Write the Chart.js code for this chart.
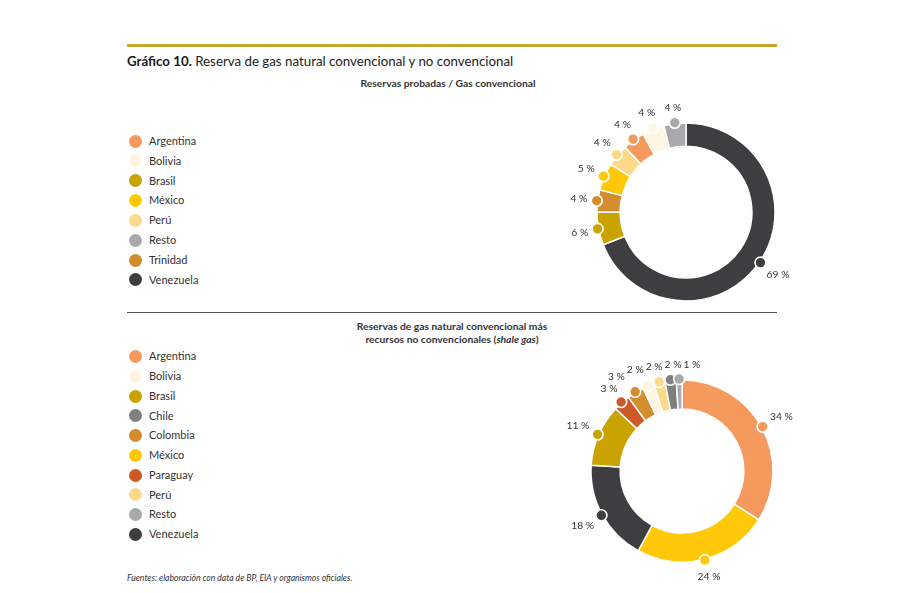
<!DOCTYPE html>
<html>
<head>
<meta charset="utf-8">
<script src="https://cdn.jsdelivr.net/npm/chart.js@4.4.1/dist/chart.umd.min.js"></script>
<style>
  html, body { margin: 0; padding: 0; background: #fff; }
  body { width: 908px; height: 593px; position: relative; overflow: hidden; font-family: Lato, "Liberation Sans", sans-serif; }
  .abs { position: absolute; white-space: nowrap; }
  canvas { position: absolute; }
</style>
</head>
<body>
<div class="abs" style="left:127px; top:44px; width:650px; height:2.5px; background:#c8a72f;"></div>
<div class="abs" style="left:127px; top:52.9px; font-size:13.3px; line-height:16px; color:#1b1b1b;"><b>Gráfico 10.</b> Reserva de gas natural convencional y no convencional</div>
<div class="abs" style="left:248px; width:400px; top:77px; text-align:center; font-size:10.3px; line-height:12.4px; font-weight:bold; color:#333;">Reservas probadas / Gas convencional</div>

<div class="abs" style="left:127px; top:312px; width:650px; height:1px; background:#555;"></div>
<div class="abs" style="left:252px; width:400px; top:320.3px; text-align:center; font-size:10.3px; line-height:12.8px; font-weight:bold; color:#333;">Reservas de gas natural convencional más<br>recursos no convencionales (<i>shale gas</i>)</div>

<div class="abs" style="left:127px; top:572.5px; font-size:8.6px; line-height:10.3px; font-style:italic; color:#333;">Fuentes: elaboración con data de BP, EIA y organismos oficiales.</div>

<div id="legend1"></div>
<div id="legend2"></div>
<canvas id="chart-convencional" width="300" height="240" style="left:536px; top:92px;"></canvas>
<canvas id="chart-total" width="300" height="240" style="left:532px; top:351px;"></canvas>

<script>
// Reservas probadas / gas convencional (%), en el orden del anillo
const convLabels = ['Venezuela', 'Brasil', 'Trinidad', 'México', 'Perú', 'Argentina', 'Bolivia', 'Resto'];
const convValues = [69, 6, 4, 5, 4, 4, 4, 4];

// Convencional + no convencional (shale gas) (%)
const totalLabels = ['Argentina', 'México', 'Venezuela', 'Brasil', 'Paraguay', 'Colombia', 'Bolivia', 'Perú', 'Chile', 'Resto'];
const totalValues = [34, 24, 18, 11, 3, 3, 2, 2, 2, 1];

const countryColors = {
  'Argentina': '#f59a5c',
  'Bolivia': '#fef6e2',
  'Brasil': '#cba300',
  'Chile': '#7f7f80',
  'Colombia': '#d38c2e',
  'Trinidad': '#d38c2e',
  'México': '#ffc90a',
  'Paraguay': '#cf5828',
  'Perú': '#fdd98a',
  'Resto': '#a9a9ab',
  'Venezuela': '#3e3e40'
};

// puntos y etiquetas de porcentaje en el borde de cada sector
const markerPlugin = {
  id: 'markers',
  afterDatasetsDraw(chart) {
    const ctx = chart.ctx;
    const ds = chart.data.datasets[0];
    const meta = chart.getDatasetMeta(0);
    ctx.save();
    ctx.font = '10.3px Lato, "Liberation Sans", sans-serif';
    const boxes = [];
    meta.data.forEach((arc, i) => {
      const p = arc.getProps(['x', 'y', 'startAngle', 'endAngle', 'outerRadius']);
      const a = (p.startAngle + p.endAngle) / 2;
      const cos = Math.cos(a), sin = Math.sin(a);
      const mx = p.x + cos * (p.outerRadius + 1);
      const my = p.y + sin * (p.outerRadius + 1);
      ctx.beginPath();
      ctx.arc(mx, my, 5.5, 0, Math.PI * 2);
      ctx.fillStyle = ds.backgroundColor[i];
      ctx.fill();
      ctx.lineWidth = 1.6;
      ctx.strokeStyle = '#fff';
      ctx.stroke();

      const txt = ds.data[i] + ' %';
      const w = ctx.measureText(txt).width;
      const d = 9 + (w / 2) * Math.abs(cos) + 5 * Math.abs(sin);
      boxes.push({ txt, w, h: 10, x: mx + cos * d, y: my + sin * d });
    });

    // separar etiquetas que se pisan
    for (let it = 0; it < 60; it++) {
      for (let i = 0; i < boxes.length; i++) {
        for (let j = i + 1; j < boxes.length; j++) {
          const A = boxes[i], B = boxes[j];
          const dx = B.x - A.x, dy = B.y - A.y;
          const ox = (A.w + B.w) / 2 + 2 - Math.abs(dx);
          const oy = (A.h + B.h) / 2 + 1 - Math.abs(dy);
          if (ox > 0 && oy > 0) {
            const s = dx >= 0 ? 1 : -1;
            A.x -= s * ox / 2;
            B.x += s * ox / 2;
          }
        }
      }
    }

    ctx.fillStyle = '#333';
    ctx.textAlign = 'center';
    ctx.textBaseline = 'middle';
    boxes.forEach(b => ctx.fillText(b.txt, b.x, b.y));
    ctx.restore();
  }
};

function makeDonut(id, labels, values, radius, cutout) {
  new Chart(document.getElementById(id), {
    type: 'doughnut',
    data: {
      labels: labels,
      datasets: [{
        data: values,
        backgroundColor: labels.map(l => countryColors[l]),
        borderColor: '#fff',
        borderWidth: 1.5
      }]
    },
    options: {
      responsive: false,
      animation: false,
      events: [],
      radius: radius,
      cutout: cutout,
      plugins: {
        legend: { display: false },
        tooltip: { enabled: false }
      }
    },
    plugins: [markerPlugin]
  });
}

function makeLegend(id, labels, firstY, step) {
  const box = document.getElementById(id);
  const sorted = labels.slice().sort((a, b) => a.localeCompare(b, 'es'));
  sorted.forEach((name, i) => {
    const cy = firstY + i * step;
    const dot = document.createElement('div');
    dot.className = 'abs';
    dot.style.cssText = `left:${135 - 6.5}px; top:${cy - 6.5}px; width:13px; height:13px; border-radius:50%; background:${countryColors[name]};`;
    box.appendChild(dot);
    const t = document.createElement('div');
    t.className = 'abs';
    t.textContent = name;
    t.style.cssText = `left:149px; top:${cy + 3.7 - 0.987 * 11}px; font-size:11px; line-height:13.2px; color:#333;`;
    box.appendChild(t);
  });
}

makeLegend('legend1', convLabels, 141, 19.85);
makeLegend('legend2', totalLabels, 356.5, 19.75);

makeDonut('chart-convencional', convLabels, convValues, 89, '74%');
makeDonut('chart-total', totalLabels, totalValues, 91, '68%');
</script>
</body>
</html>
